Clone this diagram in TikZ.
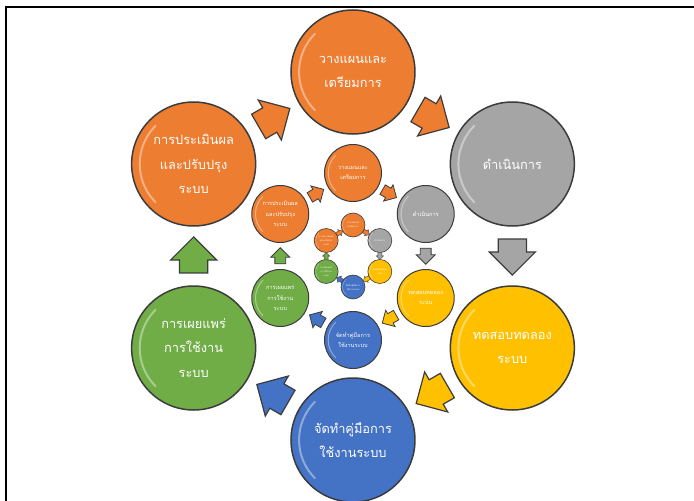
\documentclass[tikz,border=0pt]{standalone}
\usepackage{fontspec}
\newfontfamily\thaifont[Script=Thai]{Loma}
\usepackage{xcolor}
\usepackage{tikz}
\usetikzlibrary{shapes,arrows,positioning,fit,calc}

\definecolor{cOrange}{HTML}{ED7D31}
\definecolor{cGray}{HTML}{A5A5A5}
\definecolor{cYellow}{HTML}{FFC000}
\definecolor{cBlue}{HTML}{4472C4}
\definecolor{cGreen}{HTML}{70AD47}
\definecolor{cEdge}{HTML}{3C3C3C}

\begin{document}
\begin{tikzpicture}[
    gloss/.style={path picture={
        \draw[white, opacity=.4, line width=#1, line cap=round]
          let \p1=($(path picture bounding box.east)-(path picture bounding box.center)$) in
          ($(path picture bounding box.center)+(225:{0.87*\x1})$)
          arc[start angle=225, end angle=135, radius={0.87*\x1}];}},
    bubble/.style={circle, draw=cEdge, text=white, align=center, inner sep=0pt},
    bigbubble/.style={bubble, minimum size=124pt, line width=1.5pt, gloss=2pt,
        font=\thaifont\fontsize{12.8}{24.5}\selectfont},
    midbubble/.style={bubble, minimum size=57pt, line width=1pt, gloss=1pt,
        font=\thaifont\fontsize{5.6}{10.5}\selectfont},
    tinybubble/.style={bubble, minimum size=24pt, line width=0.6pt, gloss=0.5pt,
        font=\thaifont\fontsize{2.4}{4}\selectfont},
    bigarrow/.style={single arrow, draw=cEdge, line width=1.2pt, inner xsep=0pt,
        inner ysep=13.5pt, single arrow head extend=9pt, minimum height=36pt},
    midarrow/.style={single arrow, draw=cEdge, line width=0.8pt, inner xsep=0pt,
        inner ysep=5pt, single arrow head extend=4pt, minimum height=16pt},
    tinyarrow/.style={single arrow, draw=cEdge, line width=0.4pt, inner xsep=0pt,
        inner ysep=1.8pt, single arrow head extend=1.6pt, minimum height=7pt}]

    % Page and frame
    \fill[white] (-353pt,-245pt) rectangle (341pt,256pt);
    \useasboundingbox (-353pt,-245pt) rectangle (341pt,256pt);
    \draw[line width=2pt] (-347pt,-245pt) -- (-347pt,249pt) -- (341pt,249pt);

    % Outer ring
    \node[bigbubble, fill=cOrange] (plan) at (90:184pt) {วางแผนและ\\เตรียมการ};
    \node[bigbubble, fill=cGray] (run) at (30:184pt) {ดำเนินการ};
    \node[bigbubble, fill=cYellow] (test) at (-30:184pt) {ทดสอบทดลอง\\ระบบ};
    \node[bigbubble, fill=cBlue] (manual) at (-90:184pt) {จัดทำคู่มือการ\\ใช้งานระบบ};
    \node[bigbubble, fill=cGreen] (spread) at (-150:184pt) {การเผยแพร่\\การใช้งาน\\ระบบ};
    \node[bigbubble, fill=cOrange] (review) at (150:184pt) {การประเมินผล\\และปรับปรุง\\ระบบ};

    % Middle ring
    \node[midbubble, fill=cOrange] (plan2) at (90:83pt) {วางแผนและ\\เตรียมการ};
    \node[midbubble, fill=cGray] (run2) at (30:84pt) {ดำเนินการ};
    \node[midbubble, fill=cYellow] (test2) at (-30:84pt) {ทดสอบทดลอง\\ระบบ};
    \node[midbubble, fill=cBlue] (manual2) at (-90:84pt) {จัดทำคู่มือการ\\ใช้งานระบบ};
    \node[midbubble, fill=cGreen] (spread2) at (-150:84pt) {การเผยแพร่\\การใช้งาน\\ระบบ};
    \node[midbubble, fill=cOrange] (review2) at (150:84pt) {การประเมินผล\\และปรับปรุง\\ระบบ};

    % Inner ring
    \node[tinybubble, fill=cOrange] (plan3) at (90:31pt) {วางแผนและ\\เตรียมการ};
    \node[tinybubble, fill=cGray] (run3) at (30:31pt) {ดำเนินการ};
    \node[tinybubble, fill=cYellow] (test3) at (-30:31pt) {ทดสอบทดลอง\\ระบบ};
    \node[tinybubble, fill=cBlue] (manual3) at (-90:31pt) {จัดทำคู่มือการ\\ใช้งานระบบ};
    \node[tinybubble, fill=cGreen] (spread3) at (-150:31pt) {การเผยแพร่\\การใช้งาน\\ระบบ};
    \node[tinybubble, fill=cOrange] (review3) at (150:31pt) {การประเมินผล\\และปรับปรุง\\ระบบ};

    % Outer arrows (set back a little, the node centre sits behind the head)
    \node[bigarrow, fill=cOrange, rotate=-30] (plantorun) at ($(plan)!0.5!(run)!6pt!(plan)$) {};
    \node[bigarrow, fill=cGray, rotate=-90] (runtotest) at ($(run)!0.5!(test)!6pt!(run)$) {};
    \node[bigarrow, fill=cYellow, rotate=-150] (testtomanual) at ($(test)!0.5!(manual)!6pt!(test)$) {};
    \node[bigarrow, fill=cBlue, rotate=150] (manualtospread) at ($(manual)!0.5!(spread)!6pt!(manual)$) {};
    \node[bigarrow, fill=cGreen, rotate=90] (spreadtoreview) at ($(spread)!0.5!(review)!6pt!(spread)$) {};
    \node[bigarrow, fill=cOrange, rotate=30] (reviewtoplan) at ($(review)!0.5!(plan)!6pt!(review)$) {};

    % Middle arrows
    \node[midarrow, fill=cOrange, rotate=-30] (plantorun2) at ($(plan2)!0.5!(run2)!2.5pt!(plan2)$) {};
    \node[midarrow, fill=cGray, rotate=-90] (runtotest2) at ($(run2)!0.5!(test2)!2.5pt!(run2)$) {};
    \node[midarrow, fill=cYellow, rotate=-150] (testtomanual2) at ($(test2)!0.5!(manual2)!2.5pt!(test2)$) {};
    \node[midarrow, fill=cBlue, rotate=150] (manualtospread2) at ($(manual2)!0.5!(spread2)!2.5pt!(manual2)$) {};
    \node[midarrow, fill=cGreen, rotate=90] (spreadtoreview2) at ($(spread2)!0.5!(review2)!2.5pt!(spread2)$) {};
    \node[midarrow, fill=cOrange, rotate=30] (reviewtoplan2) at ($(review2)!0.5!(plan2)!2.5pt!(review2)$) {};

    % Inner arrows
    \node[tinyarrow, fill=cOrange, rotate=-30] (plantorun3) at ($(plan3)!0.5!(run3)!1pt!(plan3)$) {};
    \node[tinyarrow, fill=cGray, rotate=-90] (runtotest3) at ($(run3)!0.5!(test3)!1pt!(run3)$) {};
    \node[tinyarrow, fill=cYellow, rotate=-150] (testtomanual3) at ($(test3)!0.5!(manual3)!1pt!(test3)$) {};
    \node[tinyarrow, fill=cBlue, rotate=150] (manualtospread3) at ($(manual3)!0.5!(spread3)!1pt!(manual3)$) {};
    \node[tinyarrow, fill=cGreen, rotate=90] (spreadtoreview3) at ($(spread3)!0.5!(review3)!1pt!(spread3)$) {};
    \node[tinyarrow, fill=cOrange, rotate=30] (reviewtoplan3) at ($(review3)!0.5!(plan3)!1pt!(review3)$) {};

\end{tikzpicture}
\end{document}
